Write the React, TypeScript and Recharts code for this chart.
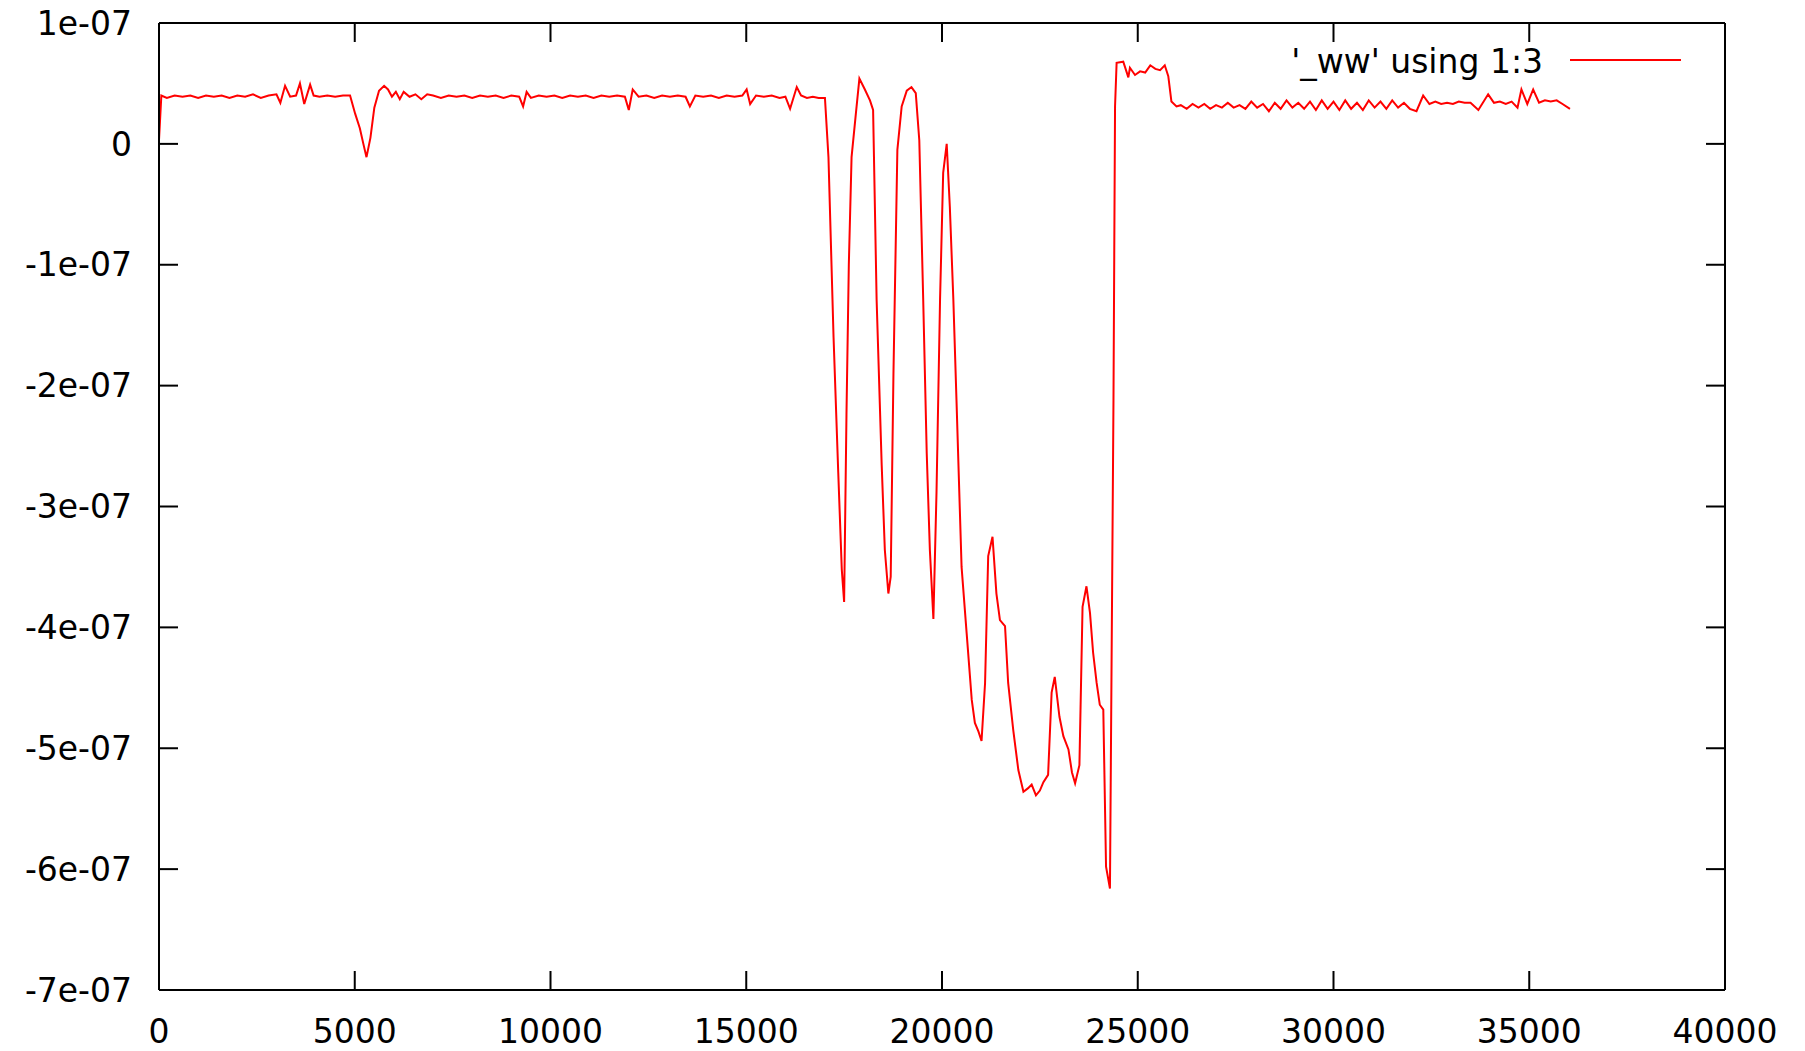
import React from 'react';
import { LineChart, Line, XAxis, YAxis, ReferenceLine, Customized } from 'recharts';

// x positions (column 1) and values (column 3, in units of 1e-7)
const xs: number[] = [
  0, 60, 200, 400, 600, 800, 1000, 1200, 1400, 1600, 1800, 2000, 2200, 2400, 2600, 2800, 3000, 3100, 3220, 3350,
  3500, 3600, 3710, 3860, 3950, 4100, 4300, 4500, 4700, 4880, 5010, 5130, 5220, 5300, 5400, 5500, 5620, 5750, 5850, 5950,
  6050, 6150, 6250, 6400, 6550, 6700, 6850, 7000, 7200, 7400, 7600, 7800, 8000, 8200, 8400, 8600, 8800, 9000, 9200, 9300,
  9390, 9500, 9700, 9900, 10100, 10300, 10500, 10700, 10900, 11100, 11300, 11500, 11700, 11900, 12000, 12100, 12250, 12450, 12650, 12850,
  13050, 13250, 13450, 13560, 13700, 13900, 14100, 14300, 14500, 14700, 14900, 15010, 15100, 15250, 15450, 15650, 15850, 16000, 16120, 16290,
  16400, 16550, 16700, 16850, 17010, 17100, 17230, 17350, 17440, 17500, 17560, 17620, 17690, 17800, 17890, 18030, 18160, 18240, 18330, 18460,
  18540, 18630, 18690, 18760, 18860, 18970, 19100, 19220, 19330, 19420, 19520, 19610, 19690, 19780, 19860, 19950, 20030, 20120, 20200, 20290,
  20370, 20500, 20630, 20760, 20840, 20930, 21010, 21100, 21180, 21290, 21390, 21480, 21610, 21690, 21820, 21950, 22080, 22200, 22290, 22400,
  22500, 22590, 22710, 22800, 22880, 23000, 23100, 23230, 23320, 23400, 23510, 23590, 23690, 23780, 23860, 23950, 24030, 24120, 24190, 24290,
  24380, 24420, 24460, 24630, 24760, 24800, 24930, 25060, 25190, 25320, 25450, 25570, 25690, 25780, 25860, 25990, 26100, 26250, 26400, 26550,
  26700, 26850, 27000, 27150, 27300, 27450, 27600, 27750, 27900, 28050, 28200, 28350, 28500, 28650, 28800, 28950, 29100, 29250, 29400, 29550,
  29700, 29850, 30000, 30150, 30300, 30450, 30600, 30750, 30900, 31050, 31200, 31350, 31500, 31650, 31800, 31950, 32120, 32290, 32450, 32600,
  32750, 32900, 33050, 33200, 33350, 33500, 33700, 33950, 34100, 34250, 34400, 34550, 34700, 34800, 34950, 35100, 35250, 35400, 35550, 35700,
  35850, 36040,
];

const vals: number[] = [
  0.03, 0.40, 0.38, 0.40, 0.39, 0.40, 0.38, 0.40, 0.39, 0.40, 0.38, 0.40, 0.39, 0.41, 0.38, 0.40, 0.41, 0.34, 0.48, 0.39,
  0.40, 0.50, 0.33, 0.49, 0.40, 0.39, 0.40, 0.39, 0.40, 0.40, 0.25, 0.13, 0.00, -0.11, 0.05, 0.30, 0.44, 0.48, 0.45, 0.39,
  0.43, 0.37, 0.43, 0.39, 0.41, 0.37, 0.41, 0.40, 0.38, 0.40, 0.39, 0.40, 0.38, 0.40, 0.39, 0.40, 0.38, 0.40, 0.39, 0.31,
  0.43, 0.38, 0.40, 0.39, 0.40, 0.38, 0.40, 0.39, 0.40, 0.38, 0.40, 0.39, 0.40, 0.39, 0.28, 0.45, 0.39, 0.40, 0.38, 0.40,
  0.39, 0.40, 0.39, 0.31, 0.40, 0.39, 0.40, 0.38, 0.40, 0.39, 0.40, 0.45, 0.33, 0.40, 0.39, 0.40, 0.38, 0.39, 0.29, 0.47,
  0.40, 0.38, 0.39, 0.38, 0.38, -0.11, -1.6, -2.72, -3.52, -3.79, -2.24, -1.0, -0.11, 0.25, 0.54, 0.45, 0.36, 0.28, -1.29, -2.66,
  -3.36, -3.72, -3.58, -1.9, -0.05, 0.31, 0.44, 0.47, 0.42, 0.03, -1.29, -2.56, -3.36, -3.93, -2.88, -1.29, -0.24, 0.00, -0.52, -1.29,
  -2.12, -3.50, -4.05, -4.60, -4.79, -4.86, -4.94, -4.46, -3.41, -3.25, -3.72, -3.94, -3.99, -4.46, -4.85, -5.18, -5.36, -5.33, -5.30, -5.39,
  -5.35, -5.28, -5.22, -4.54, -4.41, -4.74, -4.90, -5.01, -5.20, -5.29, -5.14, -3.83, -3.66, -3.88, -4.21, -4.46, -4.64, -4.68, -5.98, -6.16,
  -2.12, 0.31, 0.67, 0.68, 0.55, 0.63, 0.57, 0.60, 0.59, 0.65, 0.62, 0.61, 0.65, 0.56, 0.35, 0.31, 0.32, 0.29, 0.33, 0.30,
  0.33, 0.29, 0.32, 0.30, 0.34, 0.30, 0.32, 0.29, 0.35, 0.30, 0.33, 0.27, 0.34, 0.29, 0.36, 0.30, 0.34, 0.29, 0.35, 0.28,
  0.36, 0.29, 0.35, 0.28, 0.36, 0.29, 0.34, 0.28, 0.36, 0.30, 0.35, 0.29, 0.36, 0.30, 0.34, 0.29, 0.27, 0.40, 0.33, 0.35,
  0.33, 0.34, 0.33, 0.35, 0.34, 0.34, 0.28, 0.41, 0.34, 0.35, 0.33, 0.35, 0.30, 0.45, 0.33, 0.45, 0.34, 0.36, 0.35, 0.36,
  0.33, 0.29,
];

const UNIT = 1e-7;
const xTicks: number[] = [0, 5000, 10000, 15000, 20000, 25000, 30000, 35000, 40000];
const yTickUnits: number[] = [1, 0, -1, -2, -3, -4, -5, -6, -7];
const yTickLabels: string[] = ['1e-07', '0', '-1e-07', '-2e-07', '-3e-07', '-4e-07', '-5e-07', '-6e-07', '-7e-07'];
const seriesName = "'_ww' using 1:3";

const data = xs.map((x, i) => ({ x, y: vals[i] * UNIT }));
const yTicks = yTickUnits.map((u) => u * UNIT);
const yLabel = (v: number) => {
  const idx = yTicks.findIndex((t) => Math.abs(t - v) < 1e-12);
  return idx >= 0 ? yTickLabels[idx] : '';
};

const FONT = "'DejaVu Sans', sans-serif";
const FS = 33;
const TICK_LEN = 19;
const X_TICK_MARGIN = 30;

const LegendMark = () => (
  <g>
    <text x={1543} y={61} dy="0.355em" textAnchor="end" fontFamily={FONT} fontSize={FS} fill="#000">
      {seriesName}
    </text>
    <line x1={1570} x2={1681} y1={60} y2={60} stroke="#ff0000" strokeWidth={2} />
  </g>
);

// Bottom axis tick: inward tick mark at the axis line plus the label below it
const BottomTick = (props: any) => {
  const { x, y, payload } = props;
  const axisY = y - X_TICK_MARGIN;
  return (
    <g>
      <rect x={x - 1} y={axisY - TICK_LEN} width={2} height={TICK_LEN} fill="#000" />
      <text x={x} y={y} dy="0.71em" textAnchor="middle" fontFamily={FONT} fontSize={FS} fill="#000">
        {String(payload.value)}
      </text>
    </g>
  );
};

// Draws the short inward tick marks at the ends of a reference line
const EndTicks = (props: any) => {
  const { x1, y1, x2, y2 } = props;
  if ([x1, y1, x2, y2].some((v) => typeof v !== 'number' || isNaN(v))) return <g />;
  const vertical = Math.abs(x1 - x2) < 0.5;
  if (vertical) {
    const top = Math.min(y1, y2);
    return (
      <g>
        <line x1={x1} x2={x1} y1={top} y2={top + TICK_LEN} stroke="#000" strokeWidth={2} />
      </g>
    );
  }
  const left = Math.min(x1, x2);
  const right = Math.max(x1, x2);
  return (
    <g>
      <line x1={left} x2={left + TICK_LEN} y1={y1} y2={y1} stroke="#000" strokeWidth={2} />
      <line x1={right} x2={right - TICK_LEN} y1={y1} y2={y1} stroke="#000" strokeWidth={2} />
    </g>
  );
};

export default function App() {
  const tickStyle = { fontFamily: FONT, fontSize: FS, fill: '#000' };
  const al = { stroke: '#000', strokeWidth: 2 };
  return (
    <div style={{ position: 'absolute', left: 0, top: 0, background: '#fff' }}>
      <LineChart width={1805} height={1051} data={data} margin={{ top: 23, right: 50, bottom: 0, left: 0 }}>
        <XAxis
          xAxisId="b"
          dataKey="x"
          type="number"
          domain={[0, 40000]}
          ticks={xTicks}
          interval={0}
          height={61}
          tickLine={false}
          tickSize={0}
          tickMargin={X_TICK_MARGIN}
          axisLine={al}
          tick={<BottomTick />}
          allowDataOverflow
        />
        <XAxis
          xAxisId="t"
          dataKey="x"
          type="number"
          orientation="top"
          mirror
          domain={[0, 40000]}
          ticks={xTicks}
          interval={0}
          height={30}
          tick={false}
          tickLine={false}
          axisLine={al}
        />
        <YAxis
          yAxisId="l"
          type="number"
          domain={[-7 * UNIT, 1 * UNIT]}
          ticks={yTicks}
          interval={0}
          width={159}
          tickLine={false}
          tickSize={0}
          tickMargin={27}
          tickFormatter={yLabel}
          axisLine={al}
          tick={tickStyle}
          allowDataOverflow
        />
        <YAxis
          yAxisId="r"
          type="number"
          orientation="right"
          domain={[-7 * UNIT, 1 * UNIT]}
          ticks={yTicks}
          interval={0}
          width={30}
          tick={false}
          tickLine={false}
          axisLine={al}
        />
        {xTicks.map((t) => (
          <ReferenceLine key={`xt${t}`} xAxisId="b" yAxisId="l" x={t} shape={<EndTicks />} />
        ))}
        {yTicks.map((t, i) => (
          <ReferenceLine key={`yt${i}`} xAxisId="b" yAxisId="l" y={t} shape={<EndTicks />} />
        ))}
        <Line
          xAxisId="b"
          yAxisId="l"
          type="linear"
          dataKey="y"
          name={seriesName}
          stroke="#ff0000"
          strokeWidth={2}
          dot={false}
          activeDot={false}
          isAnimationActive={false}
        />
        <Customized component={<LegendMark />} />
      </LineChart>
    </div>
  );
}
